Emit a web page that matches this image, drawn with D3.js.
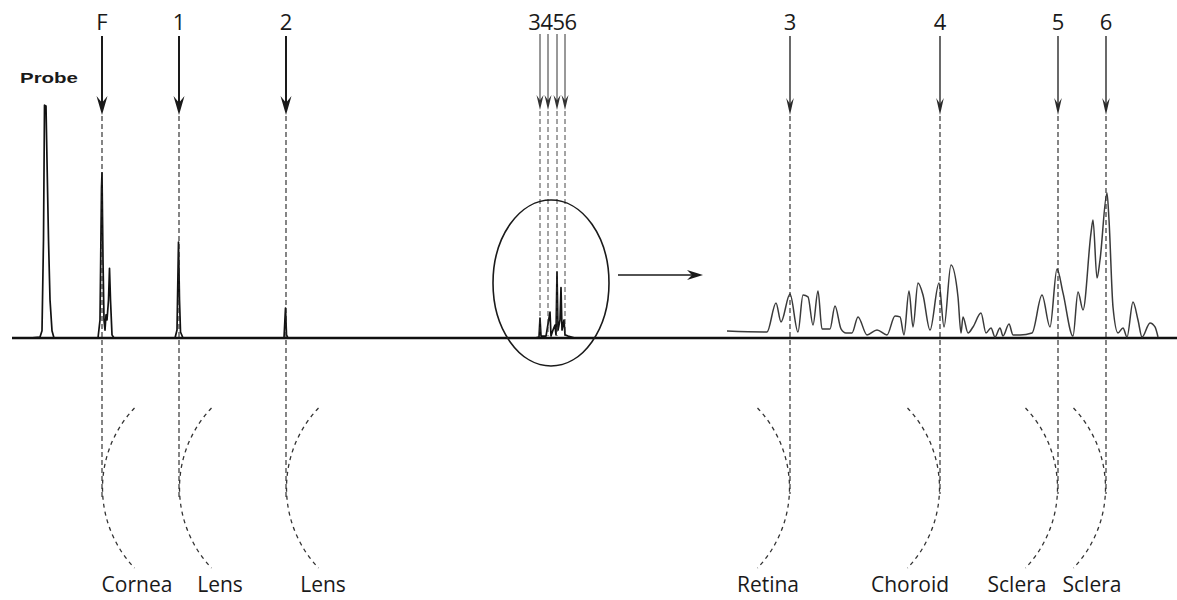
<!DOCTYPE html>
<html>
<head>
<meta charset="utf-8">
<script src="https://cdn.jsdelivr.net/npm/d3@7"></script>
<style>
  body { margin: 0; background: #fff; }
  text { font-family: "Open Sans", "Noto Sans", sans-serif; fill: #1a1a1a; }
</style>
</head>
<body>
<svg id="chart" width="1177" height="600"></svg>
<script>
// ---- A-scan echo trace (depth units along the beam, amplitude in %) ----
const scanDepth = [3.0, 4.0, 4.2, 4.35, 4.45, 4.6, 4.7, 4.85, 5.0, 5.2, 5.4,
  9.8, 10.0, 10.15, 10.2, 10.3, 10.4, 10.5, 10.6, 10.7, 10.85, 10.95, 11.05, 11.2, 11.4,
  17.5, 17.7, 17.85, 17.95, 18.05, 18.3,
  28.4, 28.55, 28.65, 28.8,
  53.5, 53.9, 54.0, 54.1, 54.6, 55.0, 55.1, 55.3, 55.5, 55.6, 55.7, 55.8, 56.0, 56.1, 56.2, 56.4, 56.5, 56.8, 57.5];
const scanAmp = [0, 0.4, 3, 41, 97, 96.7, 74, 41, 16, 3, 0,
  0, 7.5, 62.5, 68.8, 32.5, 7.5, 3.3, 9.6, 7.5, 15.8, 29, 15.8, 1.3, 0,
  0, 3.3, 40, 15.8, 2.5, 0,
  0, 12.5, 1.3, 0,
  0, 0.4, 8.3, 0.8, 0.8, 10.8, 0.8, 3.3, 5.4, 1.3, 27.5, 3.3, 7.5, 21, 3.3, 7.5, 1.3, 0.8, 0];

// ---- Magnified posterior wall echoes ----
const insetDepth = [72.7, 76.7, 77.6, 78.1, 79.0, 79.8, 80.3, 80.8, 81.3, 81.8, 82.2, 83.0, 83.5, 84.1,
  84.6, 85.2, 85.8, 86.7, 87.7, 88.7, 89.5, 90.0, 90.4, 90.9, 91.3, 91.8, 92.3, 93.0, 93.9, 94.4,
  95.1, 95.8, 96.1, 96.3, 96.8, 97.3, 98.1, 98.6, 99.1, 99.5, 100.0, 100.3, 100.9, 101.3, 102.0,
  103.2, 104.2, 105.0, 105.7, 106.3, 107.3, 107.8, 108.3, 109.1, 109.3, 109.7, 110.0, 110.7, 110.9,
  111.3, 111.8, 112.3, 112.7, 113.3, 113.8, 114.2, 115.0, 115.5, 115.8];
const insetAmp = [2.9, 2.5, 14.6, 6.7, 18.3, 2.5, 17.9, 17.1, 5.4, 19.6, 3.8, 3.8, 13.3, 3.8,
  2.1, 2.1, 8.8, 1.3, 3.3, 1.3, 9.2, 8.8, 1.3, 19.6, 4.6, 22.9, 17.9, 3.3, 22.9, 4.6,
  30.4, 17.1, 2.1, 8.8, 2.1, 4.6, 10.4, 2.1, 4.2, 0.4, 4.2, 0.8, 5.8, 1.3, 1.3,
  2.1, 17.9, 4.6, 28.8, 18.8, 0.8, 19.2, 11.7, 43.8, 49.2, 25, 32.5, 60.4, 49.2,
  12.9, 2.1, 4.2, 0.4, 15, 7.5, 0.4, 6.3, 4.6, 0.4];

// ---- Echo markers ----
const anteriorLabels = ["F", "1", "2"];
const anteriorDepth = [10.2, 17.9, 28.6];
const retinalGroupLabel = "3456";
const retinalGroupDepth = [54.0, 54.8, 55.7, 56.5];
const posteriorLabels = ["3", "4", "5", "6"];
const posteriorDepth = [79.0, 94.0, 105.8, 110.6];

// ---- Tissue interfaces ----
const anteriorTissues = ["Cornea", "Lens", "Lens"];
const anteriorTissueAt = [13.7, 22.0, 32.3];
const posteriorTissues = ["Retina", "Choroid", "Sclera", "Sclera"];
const posteriorTissueAt = [76.8, 91.0, 101.7, 109.2];

const svg = d3.select("#chart");
const W = 1177, H = 600;

const x = d3.scaleLinear().domain([0, 117.7]).range([0, W]);
const y = d3.scaleLinear().domain([0, 100]).range([338, 98]);

const baseY = y(0);
const line = d3.line().x(d => x(d[0])).y(d => y(d[1]));
const smoothLine = d3.line().x(d => x(d[0])).y(d => y(d[1])).curve(d3.curveMonotoneX);

// Baseline
svg.append("line")
  .attr("x1", x(1.2)).attr("x2", W)
  .attr("y1", baseY).attr("y2", baseY)
  .attr("stroke", "#111").attr("stroke-width", 2.6);

// Main echo trace
svg.append("path")
  .datum(d3.zip(scanDepth, scanAmp))
  .attr("d", line)
  .attr("fill", "none").attr("stroke", "#111")
  .attr("stroke-width", 1.7).attr("stroke-linejoin", "round");

// Magnified trace
svg.append("path")
  .datum(d3.zip(insetDepth, insetAmp))
  .attr("d", smoothLine)
  .attr("fill", "none").attr("stroke", "#3a3a3a")
  .attr("stroke-width", 1.5).attr("stroke-linejoin", "round");

// Probe label
svg.append("text")
  .attr("x", 20).attr("y", 83)
  .attr("textLength", 58).attr("lengthAdjust", "spacingAndGlyphs")
  .style("font-family", "'Liberation Sans', Arial, sans-serif")
  .style("font-weight", "bold").style("font-size", "15px")
  .text("Probe");

// Down arrow with barbed head
function downArrow(cx, y0, tip, half, len, width, color) {
  svg.append("line")
    .attr("x1", cx).attr("x2", cx)
    .attr("y1", y0).attr("y2", tip - len * 0.5)
    .attr("stroke", color).attr("stroke-width", width);
  svg.append("path")
    .attr("d", `M${cx},${tip} L${cx - half},${tip - len} L${cx},${tip - len * 0.65} L${cx + half},${tip - len} Z`)
    .attr("fill", color);
}

function dashedDrop(cx, y0, y1, color, width) {
  svg.append("line")
    .attr("x1", cx).attr("x2", cx)
    .attr("y1", y0).attr("y2", y1)
    .attr("stroke", color).attr("stroke-width", width)
    .attr("stroke-dasharray", "5,3");
}

const topTextY = 30;
const tipY = 115;

// Anterior echoes
anteriorDepth.forEach((d, i) => {
  const cx = x(d);
  svg.append("text").attr("x", cx).attr("y", topTextY)
    .attr("text-anchor", "middle").style("font-size", "22px").text(anteriorLabels[i]);
  downArrow(cx, 36, tipY, 5.5, 19, 2, "#1a1a1a");
  dashedDrop(cx, tipY + 1, 497, "#222", 1.1);
});

// Retinal-wall echo group
svg.append("text").attr("x", x(d3.mean(retinalGroupDepth)))
  .attr("y", topTextY).attr("text-anchor", "middle")
  .style("font-size", "22px").style("letter-spacing", "-0.5px").text(retinalGroupLabel);
retinalGroupDepth.forEach(d => {
  const cx = x(d);
  downArrow(cx, 34, 110, 3.5, 15, 1, "#333");
  dashedDrop(cx, 111, 336, "#333", 0.9);
});

// Posterior echoes
posteriorDepth.forEach((d, i) => {
  const cx = x(d);
  svg.append("text").attr("x", cx).attr("y", topTextY)
    .attr("text-anchor", "middle").style("font-size", "22px").text(posteriorLabels[i]);
  downArrow(cx, 36, tipY, 3.8, 17, 1.4, "#2a2a2a");
  dashedDrop(cx, tipY + 1, 494, "#222", 1.1);
});

// Ellipse around retinal echoes and pointer to the magnified view
svg.append("ellipse")
  .attr("cx", x(55.1)).attr("cy", 283)
  .attr("rx", 58).attr("ry", 83)
  .attr("fill", "none").attr("stroke", "#1a1a1a").attr("stroke-width", 1.6);

const arrY = 275, ax0 = x(61.8), ax1 = x(70.3);
svg.append("line").attr("x1", ax0).attr("x2", ax1 - 8)
  .attr("y1", arrY).attr("y2", arrY)
  .attr("stroke", "#1a1a1a").attr("stroke-width", 1.6);
svg.append("path")
  .attr("d", `M${ax1},${arrY} L${ax1 - 16},${arrY - 5} L${ax1 - 11},${arrY} L${ax1 - 16},${arrY + 5} Z`)
  .attr("fill", "#1a1a1a");

// Curved interface sketches
const R = 116, arcCy = 488, theta = Math.asin(80 / R);
function interfaceArc(cx, opensRight) {
  const p = d3.path();
  if (opensRight) {
    p.arc(cx + R, arcCy, R, -(Math.PI - theta), Math.PI - theta, true);
  } else {
    p.arc(cx - R, arcCy, R, -theta, theta, false);
  }
  svg.append("path").attr("d", p.toString())
    .attr("fill", "none").attr("stroke", "#333")
    .attr("stroke-width", 1.3).attr("stroke-dasharray", "4,4");
}
anteriorDepth.forEach(d => interfaceArc(x(d) + 0.5, true));
posteriorDepth.forEach(d => interfaceArc(x(d) - 0.5, false));

// Tissue names
const labelY = 592;
anteriorTissues.forEach((t, i) => {
  svg.append("text").attr("x", x(anteriorTissueAt[i])).attr("y", labelY)
    .attr("text-anchor", "middle").style("font-size", "21px").text(t);
});
posteriorTissues.forEach((t, i) => {
  svg.append("text").attr("x", x(posteriorTissueAt[i])).attr("y", labelY)
    .attr("text-anchor", "middle").style("font-size", "21px").text(t);
});
</script>
</body>
</html>
